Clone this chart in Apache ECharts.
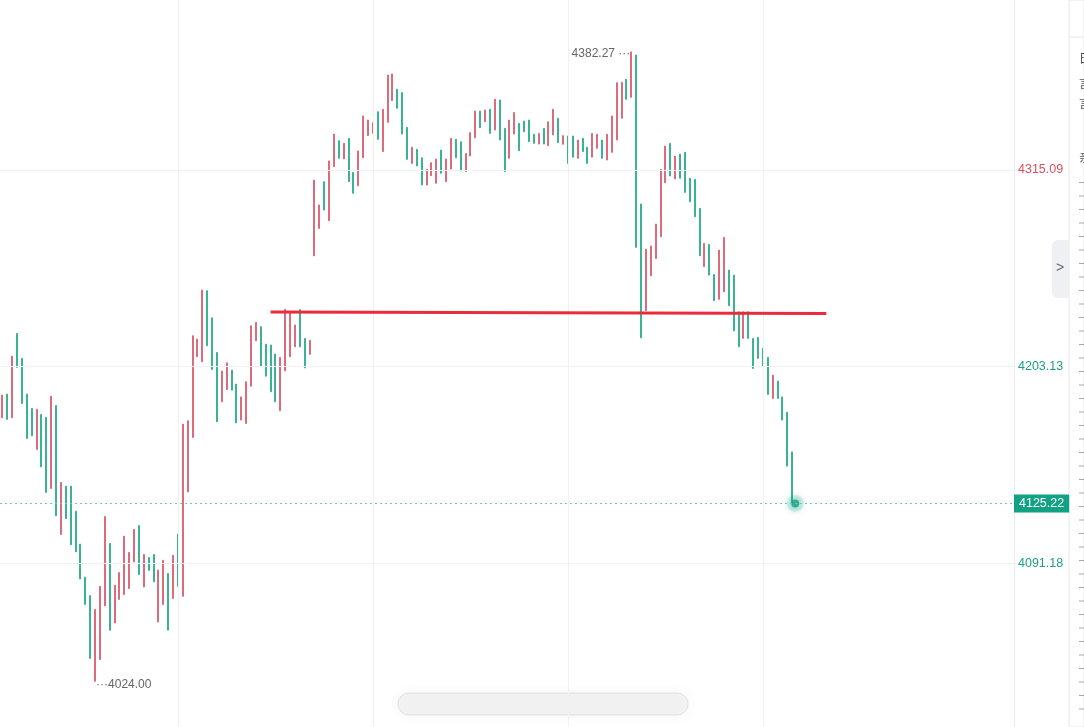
<!DOCTYPE html>
<html>
<head>
<meta charset="utf-8">
<title>K-line</title>
<script src="https://cdn.jsdelivr.net/npm/echarts@6/dist/echarts.min.js"></script>
<style>
    html, body { margin: 0; padding: 0; background: #fff; }
    #chart { width: 1084px; height: 727px; }
</style>
</head>
<body>
<div id="chart" class="echarts"></div>
<script>
// bar values, oldest first
const opens = [
    4174.0, 4187.5, 4174.0, 4222.0, 4207.8, 4187.5, 4179.3, 4156.0, 4175.9, 4174.2,
    4133.8, 4181.0, 4107.6, 4135.1, 4135.1, 4120.8, 4102.1, 4083.3, 4072.8, 4024.0,
    4036.4, 4066.9, 4102.5, 4057.2, 4070.6, 4073.4, 4076.8, 4092.0, 4112.7, 4077.7,
    4094.5, 4096.2, 4057.8, 4067.7, 4085.4, 4071.1, 4107.8, 4072.4, 4131.8, 4162.8,
    4208.7, 4205.9, 4246.3, 4230.9, 4211.2, 4183.1, 4190.1, 4201.1, 4193.2, 4172.7,
    4170.8, 4192.0, 4217.8, 4225.8, 4215.9, 4215.4, 4210.3, 4178.0, 4200.7, 4208.7,
    4214.4, 4235.7, 4219.2, 4210.1, 4266.2, 4281.8, 4308.4, 4286.2, 4316.9, 4331.7,
    4321.3, 4333.1, 4313.7, 4306.1, 4322.0, 4334.6, 4335.9, 4348.2, 4325.5, 4342.2,
    4354.5, 4361.0, 4359.1, 4339.3, 4318.8, 4326.8, 4322.0, 4306.5, 4311.8, 4307.5,
    4326.4, 4308.4, 4315.6, 4332.5, 4331.1, 4314.1, 4323.0, 4333.4, 4348.6, 4342.5,
    4349.6, 4337.8, 4354.9, 4338.8, 4321.7, 4335.5, 4341.6, 4342.9, 4343.5, 4335.4,
    4329.8, 4338.8, 4328.9, 4335.0, 4344.5, 4329.7, 4334.4, 4334.4, 4321.7, 4333.1,
    4328.0, 4322.3, 4327.4, 4332.1, 4320.7, 4325.1, 4332.1, 4344.5, 4366.7, 4356.4,
    4380.5, 4295.7, 4235.0, 4254.8, 4264.7, 4277.0, 4307.8, 4330.2, 4309.9, 4324.1,
    4325.1, 4310.3, 4309.7, 4293.2, 4260.0, 4272.7, 4255.6, 4241.4, 4245.7, 4258.1,
    4255.2, 4234.3, 4219.2, 4234.3, 4219.2, 4219.8, 4213.5, 4208.4, 4185.0, 4194.9,
    4185.9, 4177.1, 4154.6
];
const closes = [
    4186.9, 4173.1, 4209.1, 4202.7, 4182.2, 4162.2, 4163.7, 4178.9, 4146.1, 4131.5,
    4186.3, 4118.2, 4137.2, 4116.7, 4101.7, 4097.7, 4082.3, 4067.7, 4037.0, 4064.9,
    4078.1, 4117.8, 4053.1, 4078.7, 4085.9, 4106.6, 4097.3, 4110.4, 4084.8, 4096.2,
    4087.1, 4080.6, 4087.3, 4092.9, 4053.1, 4095.8, 4078.1, 4170.4, 4172.3, 4220.7,
    4218.8, 4246.7, 4215.0, 4201.5, 4171.7, 4200.6, 4205.3, 4189.7, 4171.1, 4185.9,
    4194.5, 4226.4, 4228.3, 4203.4, 4197.7, 4188.8, 4183.1, 4208.4, 4235.7, 4234.0,
    4226.8, 4214.4, 4202.4, 4218.2, 4309.3, 4295.1, 4292.3, 4320.2, 4335.5, 4321.7,
    4330.2, 4308.4, 4301.8, 4325.9, 4345.8, 4343.5, 4342.0, 4332.5, 4349.6, 4369.1,
    4369.7, 4350.2, 4335.5, 4321.1, 4328.0, 4317.3, 4306.5, 4315.4, 4319.2, 4321.3,
    4313.2, 4321.3, 4333.1, 4322.0, 4314.5, 4324.5, 4336.3, 4348.6, 4339.1, 4349.2,
    4335.9, 4355.3, 4332.1, 4314.1, 4343.5, 4347.7, 4326.0, 4336.8, 4331.1, 4330.2,
    4335.9, 4329.8, 4342.5, 4349.6, 4330.6, 4334.6, 4318.8, 4322.3, 4332.1, 4325.5,
    4318.8, 4335.9, 4335.4, 4321.7, 4335.4, 4345.8, 4364.7, 4365.0, 4355.3, 4382.27,
    4271.0, 4219.5, 4270.0, 4271.8, 4284.3, 4315.4, 4328.7, 4311.6, 4323.0, 4310.3,
    4302.3, 4297.0, 4288.4, 4266.2, 4273.3, 4255.2, 4240.6, 4269.5, 4276.7, 4237.8,
    4223.5, 4214.4, 4234.3, 4219.2, 4202.1, 4207.8, 4203.6, 4187.3, 4198.3, 4185.0,
    4172.7, 4146.5, 4125.22
];

// price levels shown on the right axis
const axisLevels = [4091.18, 4203.13, 4315.09];
const lastPrice = 4125.22;
const highMark = { index: 129, value: 4382.27 };
const lowMark = { index: 19, value: 4024.00 };
// user drawn line: [start index, start value], [end index, end value]
const drawnLine = [[55, 4234.2], [169, 4233.4]];
// bars where a vertical grid line sits
const gridBars = [36, 76, 116, 156];
const slotCount = 208;

const UP = '#dc6b7b';
const DOWN = '#3ab393';

function renderChart() {
    const el = document.getElementById('chart');
    const chart = echarts.init(el, null, { renderer: 'canvas' });

    const slots = [];
    for (let i = 0; i < slotCount; i++) {
        slots.push(String(i));
    }

    // candlestick wants [open, close, low, high]
    const kData = opens.map(function (o, i) {
        const c = closes[i];
        return [o, c, Math.min(o, c), Math.max(o, c)];
    });

    const gridLines = axisLevels.map(function (v) {
        return { yAxis: v };
    }).concat(gridBars.map(function (i) {
        return { xAxis: i };
    }));

    const dashes = [];
    for (let y = 182; y < 722; y += 13.5) {
        dashes.push({
            type: 'rect',
            shape: { x: 1079, y: y, width: 5, height: 1 },
            style: { fill: '#a8a8a8' },
            silent: true
        });
    }

    const lastPoint = [[opens.length - 1, lastPrice]];

    const options = {
        animation: false,
        backgroundColor: '#fff',
        textStyle: { fontFamily: 'Liberation Sans, Arial, sans-serif' },
        grid: { left: -1, right: 70, top: 0, bottom: 0 },
        xAxis: {
            type: 'category',
            data: slots,
            boundaryGap: true,
            axisLine: { show: false },
            axisTick: { show: false },
            axisLabel: { show: false },
            splitLine: { show: false }
        },
        yAxis: {
            type: 'value',
            position: 'right',
            min: 3998.0,
            max: 4411.8,
            scale: true,
            axisLine: { show: true, lineStyle: { color: '#ececec' } },
            axisTick: { show: false, customValues: axisLevels },
            splitLine: { show: false },
            axisLabel: {
                customValues: axisLevels,
                margin: 4,
                fontSize: 12.5,
                formatter: function (v) {
                    return Number(v).toFixed(2);
                },
                color: function (v) {
                    return Number(v) > 4250 ? '#d9505e' : '#1e9e83';
                }
            }
        },
        series: [{
            // only carries the faint grid lines
            type: 'line',
            data: [],
            z: 1,
            silent: true,
            markLine: {
                silent: true,
                symbol: 'none',
                label: { show: false },
                lineStyle: { color: '#f1f1f1', type: 'solid', width: 1 },
                data: gridLines
            }
        }, {
            type: 'candlestick',
            data: kData,
            z: 2,
            barWidth: 1.6,
            itemStyle: {
                color: UP,
                color0: DOWN,
                borderColor: UP,
                borderColor0: DOWN,
                borderWidth: 1
            },
            markPoint: {
                symbol: 'circle',
                symbolSize: 0,
                silent: true,
                label: {
                    show: true,
                    color: '#666',
                    fontSize: 12
                },
                data: [{
                    coord: [highMark.index, highMark.value],
                    label: { position: 'left', distance: 1, offset: [0, 2], formatter: highMark.value.toFixed(2) + ' \u00b7\u00b7\u00b7' }
                }, {
                    coord: [lowMark.index, lowMark.value],
                    label: { position: 'right', distance: 1, offset: [0, 3], formatter: '\u00b7\u00b7\u00b7' + lowMark.value.toFixed(2) }
                }]
            },
            markLine: {
                silent: true,
                symbol: 'none',
                data: [{
                    yAxis: lastPrice,
                    lineStyle: { color: '#74c6b1', type: [2, 3], width: 1 },
                    label: {
                        show: true,
                        position: 'end',
                        distance: 0,
                        formatter: lastPrice.toFixed(2),
                        color: '#fff',
                        fontSize: 12.5,
                        backgroundColor: '#11a183',
                        padding: [3, 5, 2, 5]
                    }
                }, [{
                    coord: drawnLine[0],
                    lineStyle: { color: '#ea2b3b', width: 3, type: 'solid' },
                    label: { show: false }
                }, {
                    coord: drawnLine[1]
                }]]
            }
        }, {
            // soft halo round the last close
            type: 'scatter',
            data: lastPoint,
            z: 3,
            symbolSize: 17,
            symbolOffset: [3, 0],
            silent: true,
            itemStyle: {
                color: 'rgba(20,163,132,0.18)',
                shadowBlur: 6,
                shadowColor: 'rgba(20,163,132,0.35)'
            }
        }, {
            // dot on the last close
            type: 'scatter',
            data: lastPoint,
            z: 4,
            symbolSize: 8,
            symbolOffset: [3, 0],
            silent: true,
            itemStyle: {
                color: '#14a384',
                shadowBlur: 8,
                shadowColor: 'rgba(20,163,132,0.9)'
            }
        }],
        graphic: [{
            // side panel edge
            type: 'rect',
            shape: { x: 1069, y: 0, width: 15, height: 727 },
            style: { fill: '#fff', stroke: '#e8e8e8', lineWidth: 1 },
            silent: true
        }, {
            type: 'line',
            shape: { x1: 1069, y1: 37, x2: 1084, y2: 37 },
            style: { stroke: '#e8e8e8', lineWidth: 1 },
            silent: true
        }, {
            type: 'text',
            style: { x: 1079, y: 52, text: '日', fill: '#444', font: '12px "Noto Sans CJK SC"' },
            silent: true
        }, {
            type: 'text',
            style: { x: 1079, y: 77, text: '言', fill: '#555', font: '12px "Noto Sans CJK SC"' },
            silent: true
        }, {
            type: 'text',
            style: { x: 1079, y: 97, text: '言', fill: '#555', font: '12px "Noto Sans CJK SC"' },
            silent: true
        }, {
            type: 'text',
            style: { x: 1079, y: 151, text: '亲', fill: '#555', font: '12px "Noto Sans CJK SC"' },
            silent: true
        }, {
            // collapse tab
            type: 'rect',
            shape: { x: 1052, y: 240, width: 17, height: 58, r: [6, 0, 0, 6] },
            style: { fill: '#eef0f3' },
            silent: true
        }, {
            type: 'text',
            style: { x: 1056, y: 261, text: '>', fill: '#666', font: '14px "Liberation Sans"' },
            silent: true
        }, {
            // faded scroll strip at the bottom
            type: 'rect',
            shape: { x: 398, y: 693, width: 290, height: 22, r: 11 },
            style: {
                fill: 'rgba(238,238,238,0.5)',
                stroke: 'rgba(205,205,205,0.5)',
                lineWidth: 1,
                shadowBlur: 8,
                shadowColor: 'rgba(215,215,215,0.5)'
            },
            silent: true
        }].concat(dashes)
    };

    chart.setOption(options);
    window.onresize = function () {
        chart.resize();
    };
}

renderChart();
</script>
</body>
</html>
